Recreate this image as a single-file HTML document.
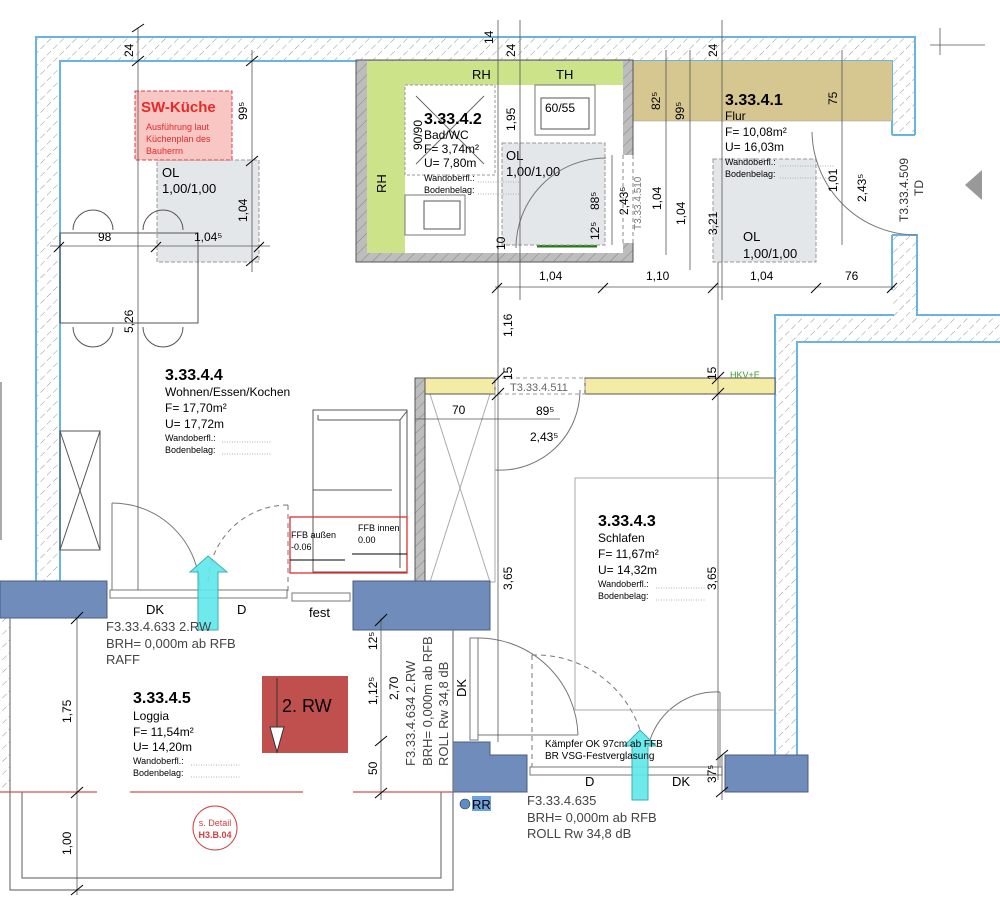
<!DOCTYPE html>
<html><head><meta charset="utf-8"><style>
html,body{margin:0;padding:0;background:#fff;width:1000px;height:903px;overflow:hidden}
svg{display:block;font-family:"Liberation Sans",sans-serif}
</style></head><body>
<svg width="1000" height="903" viewBox="0 0 1000 903" xmlns="http://www.w3.org/2000/svg">
<defs>
<pattern id="h" width="9" height="9" patternUnits="userSpaceOnUse" patternTransform="rotate(45)">
<line x1="0" y1="0" x2="0" y2="6" stroke="#8a8a8a" stroke-width="0.9"/></pattern>
<pattern id="hg" width="8" height="8" patternUnits="userSpaceOnUse" patternTransform="rotate(45)">
<rect width="8" height="8" fill="#bdbdbd"/><line x1="0" y1="0" x2="0" y2="8" stroke="#777" stroke-width="0.8"/></pattern>
</defs>

<!-- exterior hatched walls -->
<g fill="url(#h)" stroke="none">
<rect x="36" y="37" width="879" height="24"/>
<rect x="36" y="61" width="24" height="520"/>
<rect x="892" y="61" width="23" height="74"/>
<rect x="892" y="235" width="25" height="80"/>
<rect x="775" y="315" width="22" height="440"/>
<rect x="797" y="315" width="203" height="27"/>
<rect x="0" y="618" width="10" height="174"/>
</g>
<g stroke="#6cb4e0" stroke-width="2" fill="none">
<polyline points="36,581 36,37 915,37 915,135"/>
<polyline points="60,581 60,61 892,61 892,135"/>
<polyline points="892,235 917,235 917,315 1000,315"/>
<polyline points="892,235 892,290"/>
<polyline points="775,755 775,315 894,315"/>
<polyline points="797,755 797,342 1000,342"/>
<line x1="892" y1="135" x2="915" y2="135"/>
</g>

<!-- flur tan -->
<rect x="633" y="61" width="259" height="60" fill="#d5c78f"/>
<line x1="633" y1="121" x2="892" y2="121" stroke="#999" stroke-width="0.6"/>

<!-- bathroom block -->
<rect x="356" y="60" width="277" height="202" fill="url(#hg)" stroke="#555" stroke-width="1"/>
<rect x="367" y="61" width="256" height="192" fill="#fff"/>
<rect x="367" y="61" width="256" height="24" fill="#cde38a"/>
<rect x="367" y="61" width="38" height="192" fill="#cde38a"/>
<rect x="623" y="155" width="12" height="88" fill="#fff"/>
<line x1="623" y1="155" x2="623" y2="243" stroke="#888" stroke-dasharray="4,3"/>
<line x1="633" y1="155" x2="633" y2="243" stroke="#888" stroke-dasharray="4,3"/>
<rect x="535" y="85" width="60" height="50" fill="#fff" stroke="#777"/>
<rect x="541" y="98" width="48" height="31" fill="#fff" stroke="#555"/>
<rect x="405" y="195" width="60" height="40" fill="#fff" stroke="#777"/>
<rect x="424" y="201" width="36" height="28" fill="#fff" stroke="#555"/>
<rect x="405" y="85" width="90" height="90" fill="none" stroke="#999" stroke-dasharray="3,2"/>
<line x1="416" y1="96" x2="484" y2="164" stroke="#666"/><line x1="484" y1="96" x2="416" y2="164" stroke="#666"/>
<line x1="537" y1="246" x2="597" y2="246" stroke="#2a7a1a" stroke-width="3"/>
<text x="546" y="243" font-size="10" fill="#3fae2a">HHK</text>
<text x="472" y="79" font-size="13">RH</text>
<text x="556" y="79" font-size="13">TH</text>
<text x="545" y="112" font-size="12">60/55</text>
<text transform="translate(386,193) rotate(-90)" font-size="13">RH</text>

<!-- OL boxes -->
<g fill="#e4e7ea" stroke="#999" stroke-dasharray="4,2">
<rect x="157" y="160" width="102" height="102"/>
<rect x="502" y="143" width="103" height="102"/>
<rect x="713" y="159" width="103" height="103"/>
</g>
<text x="162" y="177" font-size="13">OL</text><text x="162" y="193" font-size="13">1,00/1,00</text>
<text x="506" y="160" font-size="13">OL</text><text x="506" y="176" font-size="13">1,00/1,00</text>
<text x="743" y="241" font-size="13">OL</text><text x="743" y="258" font-size="13">1,00/1,00</text>

<!-- SW-Küche -->
<rect x="135" y="91" width="97" height="69" fill="#f8c6c3" stroke="#e04040" stroke-dasharray="4,2"/>
<text x="141" y="112" font-size="15" font-weight="bold" fill="#e52a2a">SW-Küche</text>
<text x="146" y="130" font-size="9" fill="#e52a2a">Ausführung laut</text>
<text x="146" y="142" font-size="9" fill="#e52a2a">Küchenplan des</text>
<text x="146" y="154" font-size="9" fill="#e52a2a">Bauherrn</text>

<!-- table & chairs -->
<g fill="none" stroke="#555">
<rect x="60" y="233" width="138" height="90"/>
<path d="M73,230 A20,20 0 0 1 113,230"/><path d="M143,230 A20,20 0 0 1 183,230"/>
<path d="M73,327 A20,20 0 0 0 113,327"/><path d="M143,327 A20,20 0 0 0 183,327"/>
<rect x="60" y="431" width="40" height="119"/><line x1="60" y1="431" x2="100" y2="550"/><line x1="100" y1="431" x2="60" y2="550"/>
<line x1="1" y1="382" x2="1" y2="540"/>
<rect x="313" y="410" width="94" height="162"/><line x1="318" y1="415" x2="318" y2="420"/>
<line x1="318" y1="420" x2="400" y2="420"/><line x1="400" y1="420" x2="400" y2="568"/><line x1="400" y1="420" x2="407" y2="411"/>
<line x1="313" y1="490" x2="392" y2="490"/>
</g>
<rect x="290" y="517" width="117" height="56" fill="none" stroke="#e03030" stroke-width="1.3"/>
<line x1="290" y1="560" x2="345" y2="560" stroke="#000"/><line x1="352" y1="554" x2="407" y2="554" stroke="#000"/>
<text x="291" y="538" font-size="9">FFB außen</text><text x="291" y="550" font-size="9">-0.06</text>
<text x="358" y="531" font-size="9">FFB innen</text><text x="358" y="543" font-size="9">0.00</text>

<!-- door arcs -->
<g fill="none" stroke="#777">
<path d="M112,503 A88,88 0 0 1 200,590"/><line x1="112" y1="503" x2="112" y2="592"/>
<path d="M288,505 A80,80 0 0 0 208,585" stroke-dasharray="5,4"/><line x1="288" y1="505" x2="288" y2="595" stroke-dasharray="5,4"/>
<path d="M495,470 A80,80 0 0 0 580,390"/><line x1="495" y1="394" x2="495" y2="470"/>
<path d="M606,158 A90,90 0 0 0 516,248"/>
<path d="M812,132 A105,105 0 0 0 917,235"/>
<path d="M478,638 A100,100 0 0 1 578,735"/><line x1="478" y1="735" x2="578" y2="735"/>
<path d="M532,655 A110,110 0 0 1 640,730" stroke-dasharray="5,4"/><line x1="532" y1="655" x2="532" y2="770" stroke-dasharray="5,4"/>
<path d="M650,740 A70,70 0 0 1 720,692"/><line x1="720" y1="692" x2="720" y2="770"/>
<rect x="575" y="478" width="200" height="232" stroke="#aaa"/>
<rect x="425" y="394" width="70" height="188" stroke="#aaa"/>
<line x1="430" y1="394" x2="490" y2="582" stroke="#aaa"/><line x1="490" y1="394" x2="430" y2="582" stroke="#aaa"/>
</g>

<!-- partition & yellow strip -->
<rect x="415" y="378" width="10" height="204" fill="url(#hg)" stroke="#555"/>
<rect x="425" y="378" width="70" height="16" fill="#f3eca6" stroke="#555"/>
<rect x="585" y="378" width="190" height="16" fill="#f3eca6" stroke="#555"/>
<rect x="495" y="378" width="90" height="16" fill="none" stroke="#999" stroke-dasharray="4,3"/>
<text x="510" y="391" font-size="11" fill="#666">T3.33.4.511</text>
<text x="730" y="378" font-size="9" fill="#3a9a2a">HKV+E</text>

<!-- blue concrete blocks -->
<g fill="#6f8cba" stroke="#4a5e80">
<rect x="0" y="581" width="107" height="37"/>
<rect x="353" y="581" width="137" height="49"/>
<path d="M453,742 L490,742 L490,755 L527,755 L527,792 L453,792Z"/>
<rect x="725" y="755" width="83" height="37"/>
</g>
<!-- windows -->
<g fill="#fff" stroke="#777">
<rect x="110" y="590" width="177" height="8"/><rect x="292" y="593" width="58" height="8"/>
<rect x="470" y="638" width="8" height="102"/>
<rect x="530" y="767" width="192" height="8"/>
</g>
<text x="146" y="614" font-size="13">DK</text><text x="237" y="614" font-size="13">D</text><text x="309" y="617" font-size="13">fest</text>
<text transform="translate(466,697) rotate(-90)" font-size="13">DK</text>
<text x="585" y="786" font-size="13">D</text><text x="672" y="786" font-size="13">DK</text>

<!-- loggia -->
<g fill="none" stroke="#777" stroke-width="1.2">
<polyline points="10,618 10,890 453,890 453,630"/>
<polyline points="22,792 22,878 441,878 441,792"/>
</g>
<g stroke="#d05050" stroke-width="1.3">
<line x1="0" y1="792" x2="97" y2="792"/><line x1="130" y1="792" x2="303" y2="792"/><line x1="353" y1="792" x2="453" y2="792"/>
</g>
<rect x="262" y="676" width="86" height="77" fill="#c0504d"/>
<line x1="277" y1="678" x2="277" y2="752" stroke="#333"/>
<path d="M270,727 L284,727 L277,752Z" fill="#fff" stroke="#333"/>
<text x="282" y="712" font-size="18">2. RW</text>
<circle cx="215" cy="828" r="22" fill="#fff" stroke="#d04040"/>
<text x="215" y="826" font-size="9" fill="#d04040" text-anchor="middle">s. Detail</text>
<text x="215" y="838" font-size="9" font-weight="bold" fill="#d04040" text-anchor="middle">H3.B.04</text>
<circle cx="465" cy="804" r="5" fill="#5d8cc8" stroke="#333" stroke-width="0.6"/>
<rect x="472" y="796" width="19" height="15" fill="#6ea2dc"/>
<text x="472" y="809" font-size="13">RR</text>

<!-- cyan arrows -->
<g fill="#5fe8ec" stroke="#2aa7b0" opacity="0.9">
<path d="M198,630 L218,630 L218,572 L227,572 L208,556 L190,572 L198,572Z"/>
<path d="M632,800 L648,800 L648,746 L656,746 L640,730 L624,746 L632,746Z"/>
</g>

<!-- dimension lines -->
<g stroke="#555" stroke-width="0.8" fill="none">
<line x1="138" y1="28" x2="138" y2="590"/>
<line x1="252" y1="50" x2="252" y2="272"/>
<line x1="50" y1="246" x2="270" y2="246"/>
<line x1="60" y1="233" x2="198" y2="233"/>
<line x1="498" y1="20" x2="498" y2="742"/>
<line x1="520" y1="20" x2="520" y2="300"/>
<line x1="718" y1="262" x2="718" y2="780"/>
<line x1="495" y1="287" x2="895" y2="287"/>
<line x1="666" y1="50" x2="666" y2="255"/><line x1="690" y1="50" x2="690" y2="270"/>
<line x1="722" y1="20" x2="722" y2="300"/><line x1="842" y1="50" x2="842" y2="245"/>
<line x1="415" y1="419" x2="560" y2="419"/>
<line x1="77" y1="618" x2="77" y2="895"/>
<line x1="381" y1="618" x2="381" y2="800"/>
<line x1="722" y1="755" x2="722" y2="800"/>
<line x1="930" y1="45" x2="985" y2="45"/><line x1="940" y1="28" x2="940" y2="55"/>
<line x1="612" y1="155" x2="612" y2="245"/>
</g>
<g stroke="#000" stroke-width="1">
<line x1="132" y1="32" x2="144" y2="24"/><line x1="132" y1="66" x2="144" y2="56"/>
<line x1="246" y1="66" x2="258" y2="56"/><line x1="246" y1="166" x2="258" y2="156"/><line x1="246" y1="266" x2="258" y2="256"/>
<line x1="54" y1="252" x2="64" y2="242"/><line x1="151" y1="252" x2="161" y2="242"/><line x1="254" y1="252" x2="264" y2="242"/>
<line x1="492" y1="293" x2="502" y2="283"/><line x1="598" y1="293" x2="608" y2="283"/><line x1="708" y1="293" x2="718" y2="283"/>
<line x1="811" y1="293" x2="821" y2="283"/><line x1="887" y1="293" x2="897" y2="283"/>
<line x1="492" y1="384" x2="504" y2="372"/><line x1="492" y1="400" x2="504" y2="388"/>
<line x1="712" y1="384" x2="724" y2="372"/><line x1="712" y1="400" x2="724" y2="388"/>
<line x1="71" y1="895" x2="83" y2="885"/><line x1="71" y1="798" x2="83" y2="787"/><line x1="71" y1="624" x2="83" y2="612"/>
<line x1="375" y1="626" x2="387" y2="614"/><line x1="375" y1="746" x2="387" y2="736"/><line x1="375" y1="798" x2="387" y2="788"/>
<line x1="716" y1="760" x2="728" y2="750"/><line x1="716" y1="797" x2="728" y2="787"/>
</g>
<path d="M982,170 L982,200 L965,185Z" fill="#999"/>

<!-- dim text -->
<g font-size="12">
<text transform="translate(133,57) rotate(-90)">24</text>
<text transform="translate(247,120) rotate(-90)">99⁵</text>
<text transform="translate(247,222) rotate(-90)">1,04</text>
<text x="98" y="241">98</text><text x="194" y="241">1,04⁵</text>
<text transform="translate(133,333) rotate(-90)">5,26</text>
<text transform="translate(493,44) rotate(-90)">14</text>
<text transform="translate(515,57) rotate(-90)">24</text>
<text transform="translate(515,131) rotate(-90)">1,95</text>
<text transform="translate(422,150) rotate(-90)">90/90</text>
<text transform="translate(505,250) rotate(-90)">10</text>
<text transform="translate(599,210) rotate(-90)">88⁵</text>
<text transform="translate(599,240) rotate(-90)">12⁵</text>
<text transform="translate(628,215) rotate(-90)">2,43⁵</text>
<text transform="translate(641,230) rotate(-90)" font-size="10" fill="#777">T3.33.4.510</text>
<text transform="translate(661,210) rotate(-90)">1,04</text>
<text transform="translate(685,225) rotate(-90)">1,04</text>
<text transform="translate(717,235) rotate(-90)">3,21</text>
<text transform="translate(660,110) rotate(-90)">82⁵</text>
<text transform="translate(684,120) rotate(-90)">99⁵</text>
<text transform="translate(717,57) rotate(-90)">24</text>
<text transform="translate(837,105) rotate(-90)">75</text>
<text transform="translate(837,192) rotate(-90)">1,01</text>
<text transform="translate(866,202) rotate(-90)">2,43⁵</text>
<text transform="translate(908,222) rotate(-90)" font-size="12" fill="#333">T3.33.4.509</text>
<text transform="translate(923,196) rotate(-90)" font-size="12" fill="#333">TD</text>
<text x="539" y="280">1,04</text><text x="646" y="280">1,10</text><text x="750" y="280">1,04</text><text x="845" y="280">76</text>
<text transform="translate(512,337) rotate(-90)">1,16</text>
<text transform="translate(512,380) rotate(-90)">15</text>
<text transform="translate(716,380) rotate(-90)">15</text>
<text x="452" y="414">70</text><text x="536" y="415">89⁵</text><text x="530" y="441">2,43⁵</text>
<text transform="translate(512,590) rotate(-90)">3,65</text>
<text transform="translate(716,590) rotate(-90)">3,65</text>
<text transform="translate(71,723) rotate(-90)">1,75</text>
<text transform="translate(71,855) rotate(-90)">1,00</text>
<text transform="translate(377,650) rotate(-90)">12⁵</text>
<text transform="translate(377,705) rotate(-90)">1,12⁵</text>
<text transform="translate(398,700) rotate(-90)">2,70</text>
<text transform="translate(377,775) rotate(-90)">50</text>
<text transform="translate(716,783) rotate(-90)">37⁵</text>
</g>
<g font-size="13" fill="#444">
<text x="106" y="631">F3.33.4.633   2.RW</text>
<text x="106" y="648">BRH= 0,000m ab RFB</text>
<text x="106" y="664">RAFF</text>
<text transform="translate(415,766) rotate(-90)">F3.33.4.634   2.RW</text>
<text transform="translate(432,766) rotate(-90)">BRH= 0,000m ab RFB</text>
<text transform="translate(448,766) rotate(-90)">ROLL Rw 34,8 dB</text>
<text x="527" y="805">F3.33.4.635</text>
<text x="527" y="822">BRH= 0,000m ab RFB</text>
<text x="527" y="838">ROLL Rw 34,8 dB</text>
</g>
<text x="545" y="747" font-size="10">Kämpfer OK 97cm ab FFB</text>
<text x="545" y="759" font-size="10">BR VSG-Festverglasung</text>

<!-- room labels -->
<g>
<text x="424" y="124" font-size="16" font-weight="bold">3.33.4.2</text>
<text x="424" y="139" font-size="12">Bad/WC</text><text x="424" y="153" font-size="12">F= 3,74m²</text><text x="424" y="167" font-size="12">U= 7,80m</text>
<text x="424" y="181" font-size="9">Wandoberfl.:</text><text x="424" y="193" font-size="9">Bodenbelag:</text>

<text x="725" y="105" font-size="16" font-weight="bold">3.33.4.1</text>
<text x="725" y="120" font-size="12">Flur</text><text x="725" y="136" font-size="12">F= 10,08m²</text><text x="725" y="151" font-size="12">U= 16,03m</text>
<text x="725" y="165" font-size="9">Wandoberfl.:</text><text x="725" y="177" font-size="9">Bodenbelag:</text>

<text x="165" y="380" font-size="16" font-weight="bold">3.33.4.4</text>
<text x="165" y="396" font-size="12">Wohnen/Essen/Kochen</text><text x="165" y="412" font-size="12">F= 17,70m²</text><text x="165" y="428" font-size="12">U= 17,72m</text>
<text x="165" y="441" font-size="9">Wandoberfl.:</text><text x="165" y="453" font-size="9">Bodenbelag:</text>

<text x="598" y="526" font-size="16" font-weight="bold">3.33.4.3</text>
<text x="598" y="542" font-size="12">Schlafen</text><text x="598" y="558" font-size="12">F= 11,67m²</text><text x="598" y="574" font-size="12">U= 14,32m</text>
<text x="598" y="587" font-size="9">Wandoberfl.:</text><text x="598" y="599" font-size="9">Bodenbelag:</text>

<text x="133" y="703" font-size="16" font-weight="bold">3.33.4.5</text>
<text x="133" y="720" font-size="12">Loggia</text><text x="133" y="736" font-size="12">F= 11,54m²</text><text x="133" y="751" font-size="12">U= 14,20m</text>
<text x="133" y="764" font-size="9">Wandoberfl.:</text><text x="133" y="776" font-size="9">Bodenbelag:</text>
</g>
<g stroke="#999" stroke-dasharray="1,1.5" stroke-width="0.8">
<line x1="478" y1="182" x2="520" y2="182"/><line x1="478" y1="194" x2="520" y2="194"/>
<line x1="780" y1="166" x2="835" y2="166"/><line x1="780" y1="178" x2="835" y2="178"/>
<line x1="222" y1="442" x2="272" y2="442"/><line x1="222" y1="454" x2="272" y2="454"/>
<line x1="656" y1="588" x2="705" y2="588"/><line x1="656" y1="600" x2="705" y2="600"/>
<line x1="191" y1="765" x2="241" y2="765"/><line x1="191" y1="777" x2="241" y2="777"/>
</g>
</svg>
</body></html>
